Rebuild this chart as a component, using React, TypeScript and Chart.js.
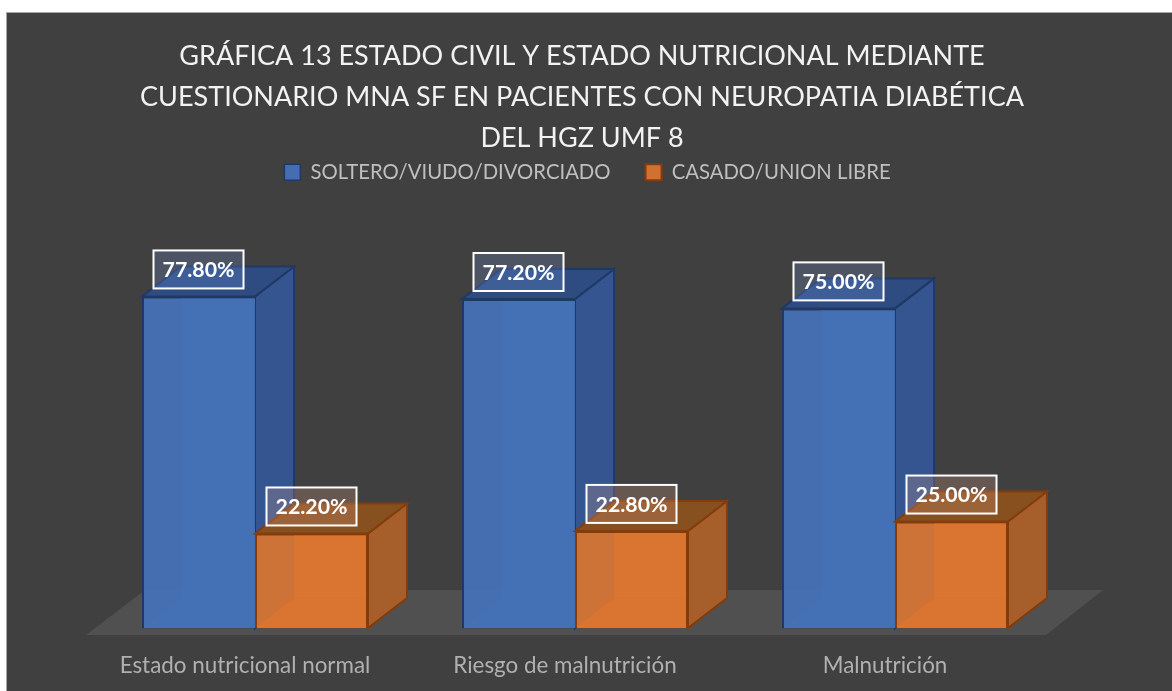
import React, { useEffect, useRef } from "react";
import { Chart, registerables } from "chart.js";

Chart.register(...registerables);

const categories = ["Estado nutricional normal", "Riesgo de malnutrición", "Malnutrición"];
const seriesNames = ["SOLTERO/VIUDO/DIVORCIADO", "CASADO/UNION LIBRE"];
const solteroValues = [77.8, 77.2, 75.0];
const casadoValues = [22.2, 22.8, 25.0];
const titleLines = [
  "GRÁFICA 13 ESTADO CIVIL Y ESTADO NUTRICIONAL MEDIANTE",
  "CUESTIONARIO MNA SF EN PACIENTES CON NEUROPATIA DIABÉTICA",
  "DEL HGZ UMF 8",
];

const FONT = "Lato, Carlito, Calibri, sans-serif";
const DX = 39;
const DY = -30;
const palette = [
  { front: "rgba(68,113,181,0.95)", back: "#3f6aad", side: "#34558f", top: "#2e4c82", edge: "#203864", soft: "rgba(32,56,100,0.25)", label: "rgba(125,160,230,0.22)" },
  { front: "rgba(218,117,50,0.93)", back: "#c96c2d", side: "#a65e2a", top: "#87501f", edge: "#843c0c", soft: "rgba(132,60,12,0.22)", label: "rgba(225,165,140,0.24)" },
];

function poly(ctx: CanvasRenderingContext2D, pts: number[][], fill: string | null, stroke: string | null, lw = 2) {
  ctx.beginPath();
  pts.forEach((p, i) => (i ? ctx.lineTo(p[0], p[1]) : ctx.moveTo(p[0], p[1])));
  ctx.closePath();
  if (fill) {
    ctx.fillStyle = fill;
    ctx.fill();
  }
  if (stroke) {
    ctx.strokeStyle = stroke;
    ctx.lineWidth = lw;
    ctx.lineJoin = "miter";
    ctx.stroke();
  }
}

const threeD = {
  id: "threeD",
  afterLayout(chart: any) {
    chart.titleBlock.left += 7;
    chart.titleBlock.right += 7;
    chart.legend.left += 12.5;
    chart.legend.right += 12.5;
  },
  beforeDatasetsDraw(chart: any) {
    const { ctx, chartArea, scales } = chart;
    const y0 = scales.y.getPixelForValue(0);
    ctx.save();
    poly(
      ctx,
      [
        [chartArea.left - 9, y0 + 7],
        [chartArea.right - 9, y0 + 7],
        [chartArea.right + 48, y0 - 38],
        [chartArea.left + 50, y0 - 38],
      ],
      "#515050",
      null
    );
    // series are painted left to right so the later bar overlaps the earlier one's side
    chart.data.datasets.forEach((_: any, i: number) => {
      const meta = chart.getDatasetMeta(i);
      const c = palette[i];
      meta.data.forEach((bar: any) => {
        const l = bar.x - bar.width / 2;
        const r = bar.x + bar.width / 2;
        const t = bar.y;
        const b = bar.base;
        poly(ctx, [[l + DX, t + DY], [r + DX, t + DY], [r + DX, b + DY], [l + DX, b + DY]], c.back, c.soft, 1);
        poly(ctx, [[l, b], [l + DX, b + DY], [r + DX, b + DY], [r, b]], c.back, c.soft, 1);
        poly(ctx, [[r, t], [r + DX, t + DY], [r + DX, b + DY], [r, b]], c.side, c.edge);
        poly(ctx, [[l, t], [l + DX, t + DY], [r + DX, t + DY], [r, t]], c.top, c.edge);
      });
      meta.controller.draw();
    });
    chart.data.datasets.forEach((ds: any, i: number) => {
      chart.getDatasetMeta(i).data.forEach((bar: any, j: number) => {
        const w = 90;
        const h = 38;
        const cx = bar.x;
        const cy = bar.y - 27;
        ctx.fillStyle = palette[i].label;
        ctx.fillRect(cx - w / 2, cy - h / 2, w, h);
        ctx.strokeStyle = "#ffffff";
        ctx.lineWidth = 2;
        ctx.strokeRect(cx - w / 2, cy - h / 2, w, h);
        ctx.fillStyle = "#ffffff";
        ctx.font = `bold 21.3px ${FONT}`;
        ctx.textAlign = "center";
        ctx.textBaseline = "middle";
        ctx.fillText(ds.data[j].toFixed(2) + "%", cx, cy + 1);
      });
    });
    ctx.restore();
    return false;
  },
};

export default function App() {
  const ref = useRef<HTMLCanvasElement>(null);
  useEffect(() => {
    const chart = new Chart(ref.current!, {
      type: "bar",
      data: {
        labels: categories,
        datasets: [
          {
            label: seriesNames[0],
            data: solteroValues,
            backgroundColor: palette[0].front,
            borderColor: palette[0].edge,
            borderWidth: { top: 2, left: 2, bottom: 2, right: 0 },
          },
          {
            label: seriesNames[1],
            data: casadoValues,
            backgroundColor: palette[1].front,
            borderColor: palette[1].edge,
            borderWidth: 2,
          },
        ],
      },
      options: {
        responsive: false,
        animation: false,
        layout: { padding: { left: 95, right: 117, top: 0, bottom: -4 } },
        datasets: { bar: { categoryPercentage: 0.70625, barPercentage: 1 } },
        scales: {
          x: {
            grid: { display: false },
            border: { display: false },
            ticks: {
              color: "#b0b0b0",
              font: { family: FONT, size: 22.4 },
              padding: 16,
              labelOffset: -10,
              maxRotation: 0,
              autoSkip: false,
            },
          },
          y: { display: false, min: 0, max: 102.2 },
        },
        plugins: {
          tooltip: { enabled: false },
          title: {
            display: true,
            text: titleLines,
            color: "#f2f2f2",
            font: { family: FONT, size: 27, weight: "normal", lineHeight: 1.52 },
            padding: { top: 35.5, bottom: -31.5 },
          },
          legend: {
            display: true,
            labels: {
              color: "#bfbfbf",
              font: { family: FONT, size: 20.3 },
              boxWidth: 16,
              boxHeight: 16,
              padding: 35,
            },
          },
        },
      } as any,
      plugins: [threeD],
    });
    return () => chart.destroy();
  }, []);
  return (
    <>
      <style>{`html,body{margin:0;padding:0;background:#fff;overflow:hidden}`}</style>
      <div
        style={{
          position: "absolute",
          left: 6,
          top: 12,
          width: 1166,
          height: 679,
          boxSizing: "border-box",
          background: "#404040",
          borderTop: "1px solid #a6a6a6",
          borderLeft: "1px solid #a6a6a6",
        }}
      />
      <canvas ref={ref} width={1172} height={691} style={{ position: "absolute", left: 0, top: 0, display: "block" }} />
    </>
  );
}
